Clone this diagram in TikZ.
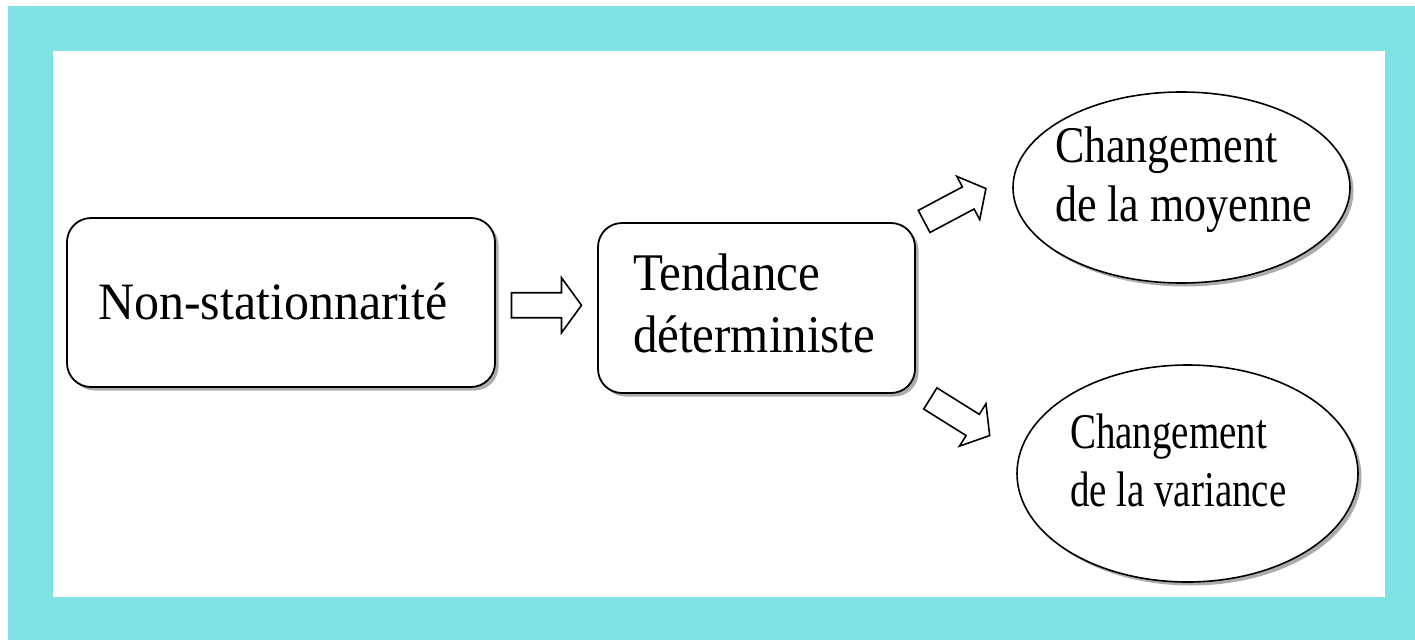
\documentclass[tikz,border=0pt]{standalone}
\usepackage{fontspec}
\setmainfont{Liberation Serif}
\usetikzlibrary{shapes.geometric,shadows,calc}
\definecolor{framecyan}{RGB}{128,226,228}
% #1 x offset of left edge, #2 raise of first baseline, #3 vertical stretch, #4 lines
\newcommand\placetext[4]{\makebox[0pt][l]{\hspace*{#1}\raisebox{#2}[0pt][0pt]{\scalebox{1}[#3]{\begin{tabular}[t]{@{}l@{}}#4\end{tabular}}}}}
\newcommand\blockarrow[3]{%
  \fill[arrshadow, shift={(3.5,3.5)}, shift={#1}, rotate=#2]
    (-35,-12.5)--(15,-12.5)--(15,-#3)--(35,0)--(15,#3)--(15,12.5)--(-35,12.5)--cycle;
  \draw[arrbody, shift={#1}, rotate=#2]
    (-35,-12.5)--(15,-12.5)--(15,-#3)--(35,0)--(15,#3)--(15,12.5)--(-35,12.5)--cycle;
}
\tikzset{
  myshadow/.style={drop shadow={shadow xshift=3.5pt, shadow yshift=-3.5pt, fill=gray!65, opacity=1}},
  boxnode/.style={draw=black, line width=1.8pt, rounded corners=24pt, fill=white, inner sep=0pt, myshadow},
  ellnode/.style={ellipse, draw=black, line width=1.6pt, fill=white, inner sep=0pt, myshadow},
  arrbody/.style={draw=black, line width=1.6pt, fill=white, line join=miter},
  arrshadow/.style={fill=gray!65, draw=none},
}
\begin{document}
\begin{tikzpicture}[x=1pt,y=-1pt]
\useasboundingbox (0,0) rectangle (1415,640);
\fill[white] (0,0) rectangle (1415,640);
\fill[framecyan] (8,6) rectangle (1415,640);
\fill[white] (53,51) rectangle (1385,597);

\node[boxnode, minimum width=428pt, minimum height=169pt,
      font=\fontsize{50}{58}\selectfont] (b1) at (281,302.5)
  {\placetext{-183pt}{-16.8pt}{1.05}{Non-stationnarité}};
\node[boxnode, minimum width=317pt, minimum height=170pt,
      font=\fontsize{49}{58.3}\selectfont] (b2) at (756.5,308)
  {\placetext{-123.5pt}{18pt}{1.08}{Tendance\\déterministe}};
\node[ellnode, minimum width=337pt, minimum height=191pt,
      font=\fontsize{44}{50.4}\selectfont] (e1) at (1181.5,187.5)
  {\placetext{-126.5pt}{24.8pt}{1.17}{Changement\\de la moyenne}};
\node[ellnode, minimum width=341pt, minimum height=217pt,
      font=\fontsize{39}{45.3}\selectfont] (e2) at (1187.5,473.5)
  {\placetext{-117.5pt}{25.2pt}{1.28}{Changement\\de la variance}};

\coordinate (a1) at ($(b1.east)!0.5!(b2.west)$);
\coordinate (a2) at (955,205);
\coordinate (a3) at (960,417);
\blockarrow{(a1)}{0}{27.5}
\blockarrow{(a2)}{28}{24.5}
\blockarrow{(a3)}{-32}{25}
\end{tikzpicture}
\end{document}
